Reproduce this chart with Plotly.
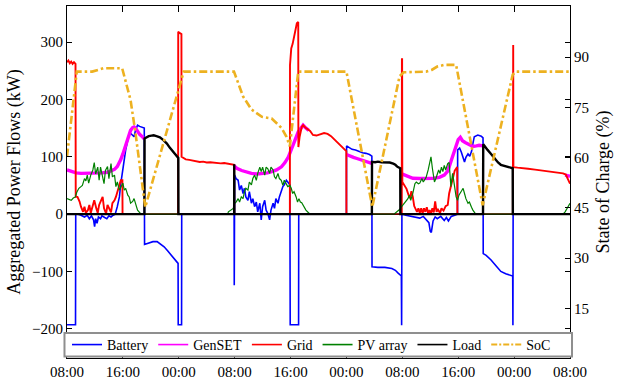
import plotly.graph_objects as go
import pandas as pd

BASE = pd.Timestamp("2021-06-01 08:00")

# ---------------- data (hours from 08:00 of day 1) ----------------
bat_h = [0, 1.22, 1.25, 1.5, 2.0, 2.5, 2.9, 3.2, 3.5, 3.8, 3.95, 4.1, 4.3, 4.5, 4.8, 5.0,
         5.4, 5.7, 6.0, 6.3, 6.6, 6.9, 7.2, 7.5, 7.7, 7.95, 8.2, 8.4, 8.7, 8.9, 9.1, 9.4,
         9.6, 9.8, 10.1, 10.4, 10.7, 11.06,
         11.1, 11.6, 12.3, 12.9, 13.4, 13.9, 14.4, 14.9, 15.4, 15.8, 15.9, 15.92, 16.4, 16.42,
         23.92, 23.94, 23.96, 24.0, 24.2, 24.5, 24.7, 24.95, 25.2, 25.4, 25.6, 25.9, 26.1,
         26.4, 26.6, 26.85, 27.1, 27.3, 27.6, 27.8, 28.0, 28.3, 28.5, 28.75, 29.0, 29.2,
         29.5, 29.7, 29.9, 30.2, 30.4, 30.67, 30.9, 31.1, 31.4, 31.6, 31.9, 31.95, 33.15, 33.17,
         40.0, 40.02, 40.4, 40.8, 41.3, 41.8, 42.3, 42.8, 43.3, 43.64,
         43.66, 44.5, 45.5, 46.5, 47.0, 47.4, 47.86, 47.9, 47.94,
         48.5, 49.0, 49.8, 50.5, 51.0, 51.5, 51.8, 52.0, 52.15, 52.4, 52.7, 53.0, 53.5, 54.0,
         54.3, 54.6, 55.0, 55.5, 55.9,
         55.92, 56.2, 56.45, 56.7, 56.9, 57.1, 57.4, 57.65, 57.9, 58.1, 58.3, 58.8, 59.3, 59.55,
         59.58, 60.0, 60.7, 61.4, 62.1, 62.8, 63.4, 63.8, 63.83, 63.86, 72.0]
bat_kw = [-193, -193, 0, 0, -2, -5, -2, -8, -3, -10, -22, -8, -16, -5, -8, -3,
          -6, -8, -3, -5, -2, 0, 13, 30, 53, 77, 94, 112, 129, 139, 141, 138,
          135, 146, 155, 153, 152, 150,
          -53, -51, -48, -48, -52, -57, -64, -71, -78, -83, -86, -193, -193, 0,
          0, -124, 0, 68, 62, 59, 42, 50, 36, 45, 30, 24, 39,
          19, 27, 13, 21, 4, 19, -10, 13, 24, 7, 1, -10, 7,
          19, 10, 27, 19, 30, 42, 48, 51, 59, 56, 51, -193, -193, 0,
          0, 119, 116, 113, 112, 109, 107, 106, 104, 101,
          -92, -93, -93, -95, -98, -103, -108, -194, 0,
          -2, -3, -5, -7, -4, -10, -15, -30, -32, -12, -5, -8, -4, -11,
          -6, -12, -4, -2, 0,
          112, 115, 108, 96, 91, 99, 105, 101, 109, 123, 135, 138, 136, 133,
          -69, -72, -80, -90, -100, -104, -106, -108, -194, 0, 0]

gen_h = [0, 0.4, 0.8, 1.3, 2.0, 3.0, 4.0, 5.0, 5.8, 6.3, 6.8, 7.2, 7.5, 7.7, 8.0, 8.2, 8.5,
         8.7, 9.1, 9.4, 9.6, 9.8, 10.1, 10.4, 10.7, 11.06, 11.07,
         23.95, 24.3, 25.0, 25.7, 26.4, 27.2, 28.0, 28.7, 29.3, 30.0, 30.7, 31.2, 31.7, 32.1,
         32.4, 32.8, 33.1, 33.5, 33.8, 34.2, 34.6, 34.62,
         40.0, 40.5, 41.0, 41.5, 42.0, 42.5, 43.0, 43.62, 43.63,
         47.75, 48.3, 48.8, 49.5, 50.5, 51.5, 52.5, 53.3, 54.0, 54.5, 55.0, 55.5, 56.0, 56.3,
         56.6, 57.0, 57.4, 58.1, 58.6, 59.0, 59.55, 59.56,
         71.3, 71.7, 72.0]
gen_kw = [77, 75, 73, 72, 71, 71, 71.5, 72, 73, 75, 78, 83, 89, 95, 105, 112, 124,
          132, 146, 151, 152, 150, 143, 139, 136, 131, None,
          84, 80, 76, 73, 71, 70, 70.5, 72, 74, 77, 82.5, 90, 100, 112,
          123, 135, 143.6, 150, 155, 150, 146, None,
          104, 101, 99, 97, 95, 93, 91, 88.5, None,
          71, 68, 65, 62.5, 62, 62, 62.5, 64, 68, 75, 95, 115, 130, 134,
          128, 125, 123, 118, 119, 120, 119, None,
          68, 67, 66]

grid_h = [0, 0.2, 0.4, 0.6, 0.8, 1.0, 1.22, 1.25, 1.5, 1.8, 2.0, 2.3, 2.5, 2.7, 3.0, 3.2,
          3.4, 3.7, 3.9, 4.2, 4.4, 4.6, 4.85, 5.1, 5.3, 5.6, 5.8, 6.0, 6.3, 6.5, 6.8, 7.0,
          7.2, 7.5, 7.7, 7.93, 7.95,
          15.9, 15.92, 16.1, 16.38, 16.4, 16.7, 17.0, 17.5, 18.0, 18.5, 19.0, 19.5, 20.0,
          20.5, 21.0, 21.5, 22.0, 22.5, 23.0, 23.5, 23.92, 23.94,
          31.9, 31.92, 32.1, 32.3, 32.6, 32.9, 33.1, 33.12, 33.3, 33.6, 33.8, 34.2, 34.8,
          35.2, 35.7, 36.2, 36.8, 37.3, 37.8, 38.3, 38.7, 39.1, 39.5, 39.98, 40.0,
          47.92, 47.94, 47.97, 48.0, 48.3, 48.6, 48.9, 49.1, 49.3, 49.5, 49.7, 49.9, 50.1,
          50.3, 50.5, 50.7, 50.9, 51.1, 51.3, 51.5, 51.7, 51.9, 52.1, 52.3, 52.5, 52.7,
          52.9, 53.1, 53.4, 53.6, 53.9, 54.2, 54.5, 54.7, 54.95, 55.2, 55.5, 55.85, 55.88,
          63.82, 63.84, 63.87, 63.9, 64.5, 65.0, 66.0, 67.0, 68.0, 69.0, 70.0, 71.0, 71.4,
          71.7, 72.0]
grid_kw = [265, 268, 263, 266, 262, 265, 262, 30, 30, 22, 13, 4, 13, 2, 7, 16,
           2, 13, 24, 10, 2, 16, 24, 30, 10, 1, 16, 10, 3, 19, 24, 30,
           39, 50, 59, 59, 0,
           0, 318, 316, 314, 100, 97, 95.5, 94.5, 93, 92.5, 91, 91.5, 90,
           90.5, 89.5, 89.8, 88.5, 89, 87.5, 87, 86, 0,
           0, 260, 289, 297, 315, 333, 335, 117, 135, 152, 155, 150, 145,
           138, 137, 139, 141.5, 140, 136, 130, 125, 120, 115, 110, 0,
           0, 270, 270, 56, 50, 44, 33, 28, 40, 30, 14, 8, 4,
           10, 2, 10, 1, 10, 4, 12, 1, 7, 1, 10, 3, 22,
           4, 8, 2, 10, 6, 14, 16, 36, 48, 65, 76, 82, 0,
           0, 295, 295, 82, 81, 80, 79, 77.5, 76, 75, 73, 71, 69,
           60, 53]

pv_h = [0, 0.3, 0.6, 0.9, 1.2, 1.4, 1.7, 2.0, 2.2, 2.5, 2.7, 2.9, 3.1, 3.4, 3.7, 3.9, 4.1,
        4.4, 4.6, 4.8, 5.0, 5.3, 5.5, 5.8, 6.0, 6.3, 6.5, 6.8, 7.0, 7.2, 7.5, 7.7, 8.0, 8.2,
        8.4, 8.7, 8.9, 9.1, 9.4, 9.6, 9.9, 10.1, 10.6,
        23.0, 23.1, 23.5, 23.8, 24.0, 24.2, 24.5, 24.7, 24.95, 25.2, 25.4, 25.6, 25.9, 26.1,
        26.4, 26.6, 26.85, 27.1, 27.3, 27.6, 27.8, 28.0, 28.3, 28.5, 28.75, 29.0, 29.2, 29.5,
        29.7, 29.9, 30.2, 30.4, 30.67, 30.9, 31.1, 31.4, 31.6, 31.9, 32.1, 32.3, 32.5, 32.8,
        33.0, 33.2, 33.4, 33.6, 33.9, 34.2, 34.6, 34.9,
        46.8, 47.2, 47.6, 47.9, 48.2, 48.5, 48.8, 49.0, 49.2, 49.5, 49.8, 50.0, 50.3, 50.5,
        50.8, 51.0, 51.2, 51.4, 51.7, 51.9, 52.1, 52.3, 52.6, 52.8, 53.0, 53.2, 53.4, 53.6,
        53.8, 54.0, 54.2, 54.5, 54.7, 54.95, 55.2, 55.5, 55.7, 55.9, 56.1, 56.4, 56.7, 56.9,
        57.1, 57.4, 57.6, 57.9, 58.1, 58.5,
        71.0, 71.3, 71.6, 72.0]
pv_kw = [27, 25, 24, 28, 30, 38, 45, 48, 50, 62, 58, 68, 54, 68, 77, 90, 70,
         82, 59, 82, 70, 53, 76, 83, 62, 88, 65, 68, 48, 56, 42, 48, 54, 42,
         45, 33, 30, 19, 22, 27, 15, 7, 0,
         0, 4, 7, 10, 18.6, 21, 27, 21, 30, 27, 39, 45, 42, 56,
         51, 62, 68, 59, 71, 82, 74, 82, 68, 82, 79, 71, 82, 77,
         65, 62, 71, 62, 59, 50, 59, 53, 48, 50, 45, 36, 39, 30,
         21, 27, 21, 20, 13, 7, 2, 0,
         0, 4, 8, 13, 18, 22, 27, 33, 24, 36, 53, 56, 53, 54,
         62, 56, 60, 64, 77, 88, 100, 80, 56, 62, 71, 77, 71, 82,
         74, 85, 77, 88, 90, 48, 71, 48, 30, 24, 33, 39, 45, 36,
         27, 19, 21, 12, 7, 0,
         0, 4, 10, 19]

load_h = [0, 11.08, 11.1, 11.4, 11.7, 12.1, 12.4, 12.8, 13.3, 13.8, 14.3, 14.7, 15.0, 15.4,
          15.7, 15.93, 15.95,
          23.93, 23.94, 23.95,
          43.64, 43.66, 44.1, 44.5, 45.0, 45.5, 46.2, 46.7, 47.0, 47.3, 47.7, 47.72,
          59.55, 59.58, 59.9, 60.2, 60.7, 61.2, 61.7, 62.1, 62.6, 63.0, 63.4, 63.8, 63.82, 72.0]
load_kw = [0, 0, 132, 134, 136, 137, 137.5, 136, 134, 129, 123, 116, 112, 106,
           101, 98, 0,
           0, 87, 0,
           0, 91, 90.5, 91.5, 90.5, 90.5, 90, 88, 86, 82.5, 80, 0,
           0, 122, 116, 112, 105, 97, 90, 86, 84, 83, 81.5, 80, 0, 0]

soc_h = [0, 1.4, 3.6, 4.5, 5.2, 7.9, 9.1, 9.8, 11.2, 16.7, 23.9, 24.5, 25.2, 26.4, 27.9,
         29.3, 30.7, 31.4, 31.9, 33.1, 40.0, 43.7, 47.6, 48.2, 51.4, 52.2, 53.0, 54.0,
         55.7, 59.5, 63.8, 64.3, 72.0]
soc_pct = [60.3, 85.7, 85.7, 86.2, 86.7, 86.7, 77.2, 67.4, 45.2, 85.7, 85.7, 82.3, 78.3,
           74.4, 72.2, 71.7, 68.9, 66.3, 63.4, 85.7, 85.7, 45.3, 84.3, 85.5, 85.7, 86.2,
           87.2, 87.7, 87.7, 45.8, 84.8, 85.7, 85.7]

power_ticks = [-200, -100, 0, 100, 200, 300]
soc_ticks = [15, 30, 45, 60, 75, 90]

names = ["Battery", "GenSET", "Grid", "PV array", "Load", "SoC"]
colors = ["#0000FF", "#FF00FF", "#FF0000", "#008000", "#000000", "#EDB120"]

FONT = "Times New Roman, Liberation Serif, Tinos, DejaVu Serif, serif"


def to_time(hours):
    return [BASE + pd.Timedelta(hours=h) for h in hours]


fig = go.Figure()
series = [
    (bat_h, bat_kw, 1.6),
    (gen_h, gen_kw, 3.4),
    (grid_h, grid_kw, 1.9),
    (pv_h, pv_kw, 1.2),
    (load_h, load_kw, 2.4),
]
for (hh, vv, w), nm, col in zip(series, names[:5], colors[:5]):
    fig.add_trace(go.Scatter(x=to_time(hh), y=vv, mode="lines", name=nm,
                             line=dict(color=col, width=w), connectgaps=False,
                             showlegend=False))
fig.add_trace(go.Scatter(x=to_time(soc_h), y=soc_pct, mode="lines", name="SoC",
                         line=dict(color=colors[5], width=2.6, dash="8px,3px,2.5px,3px"),
                         showlegend=False, yaxis="y2"))

# legend entries
for nm, col in zip(names, colors):
    dash = "6px,2px,2px,2px" if nm == "SoC" else "solid"
    fig.add_trace(go.Scatter(x=[None], y=[None], mode="lines", name=nm,
                             line=dict(color=col, width=2 if nm == "SoC" else 1.6, dash=dash),
                             showlegend=True))

x0 = BASE
x1 = BASE + pd.Timedelta(hours=72)
fig.update_layout(
    width=623, height=384,
    margin=dict(l=67, r=53, t=6, b=26, autoexpand=False),
    paper_bgcolor="white", plot_bgcolor="white",
    font=dict(family=FONT, size=15, color="black"),
    xaxis=dict(type="date", range=[x0, x1], tick0=x0, dtick=8 * 3600 * 1000,
               tickformat="%H:%M", ticks="inside", ticklen=6, tickcolor="black",
               showline=True, linecolor="black", linewidth=1, mirror="ticks",
               showgrid=False, zeroline=False, automargin=False),
    yaxis=dict(range=[-251, 363], tickvals=power_ticks, ticks="inside", ticklen=5,
               tickcolor="black", showline=True, linecolor="black", linewidth=1,
               mirror="ticks", showgrid=False, zeroline=False, automargin=False,
               title=dict(text="Aggregated Power Flows (kW)", standoff=6)),
    yaxis2=dict(range=[0.15, 105.3], tickvals=soc_ticks, ticks="inside", ticklen=5,
                tickcolor="black", overlaying="y", side="right", showline=True,
                linecolor="black", linewidth=1, showgrid=False, zeroline=False,
                automargin=False,
                title=dict(text="State of Charge (%)", standoff=8)),
    legend=dict(orientation="h", x=0.0, xanchor="left", y=0.037, yanchor="middle",
                bgcolor="rgba(0,0,0,0)", borderwidth=0, font=dict(size=14),
                itemwidth=30, tracegroupgap=0),
    shapes=[
        dict(type="line", xref="paper", x0=0, x1=1, yref="y", y0=0, y1=0,
             line=dict(color="black", width=1), layer="above"),
        dict(type="rect", xref="paper", x0=-0.005, x1=1.004, yref="paper", y0=0.004,
             y1=0.071, line=dict(color="#8f8f8f", width=2), fillcolor="white",
             layer="above"),
    ],
)

fig.write_html("out.html", config={"displayModeBar": False},
               post_script="document.body.style.margin='0';document.body.style.padding='0';")
